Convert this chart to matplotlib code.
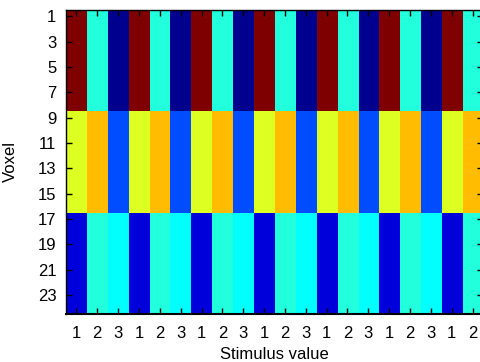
import numpy as np
import matplotlib
matplotlib.use('Agg')
import matplotlib.pyplot as plt
from matplotlib.colors import LinearSegmentedColormap

plt.rcParams['font.family'] = ['Liberation Sans', 'DejaVu Sans']

# response level of each voxel group to stimulus values 1, 2, 3
group_rows = [8, 8, 8]
group_resp = [
    [1.00, 0.41, 0.016],
    [0.59, 0.69, 0.20],
    [0.09, 0.41, 0.375],
]
stim_values = [1, 2, 3]
n_trials = 20
voxel_ticks = list(range(1, 25, 2))

rows = []
for n, resp in zip(group_rows, group_resp):
    for _ in range(n):
        rows.append([resp[t % 3] for t in range(n_trials)])
data = np.array(rows)
xlabels = [str(stim_values[t % 3]) for t in range(n_trials)]

# matlab-style jet
mjet = LinearSegmentedColormap('mjet', {
    'red':   [(0, 0, 0), (0.375, 0, 0), (0.625, 1, 1), (0.875, 1, 1), (1, 0.5, 0.5)],
    'green': [(0, 0, 0), (0.125, 0, 0), (0.375, 1, 1), (0.625, 1, 1), (0.875, 0, 0), (1, 0, 0)],
    'blue':  [(0, 0.5, 0.5), (0.125, 1, 1), (0.375, 1, 1), (0.625, 0, 0), (1, 0, 0)],
})

fig = plt.figure(figsize=(4.8, 3.62), dpi=100)
ax = fig.add_axes([66 / 480, 1 - 314 / 362, 417 / 480, 304 / 362])
ax.imshow(data, cmap=mjet, vmin=0, vmax=1, aspect='auto', interpolation='nearest',
          extent=(0.5, n_trials + 0.5, data.shape[0] + 0.5, 0.5))

ax.set_xticks(range(1, n_trials + 1))
ax.set_xticklabels(xlabels)
ax.set_yticks(voxel_ticks)
ax.tick_params(direction='in', top=True, right=True, labelsize=12, length=4, width=1)
ax.tick_params(axis='x', pad=9)
ax.tick_params(axis='y', pad=7)
for s in ax.spines.values():
    s.set_linewidth(1)
ax.spines['bottom'].set_linewidth(1.5)
ax.set_xlabel('Stimulus value', fontsize=12, labelpad=4)
ax.set_ylabel('Voxel', fontsize=12, labelpad=14)

fig.savefig('out.png', dpi=100)
